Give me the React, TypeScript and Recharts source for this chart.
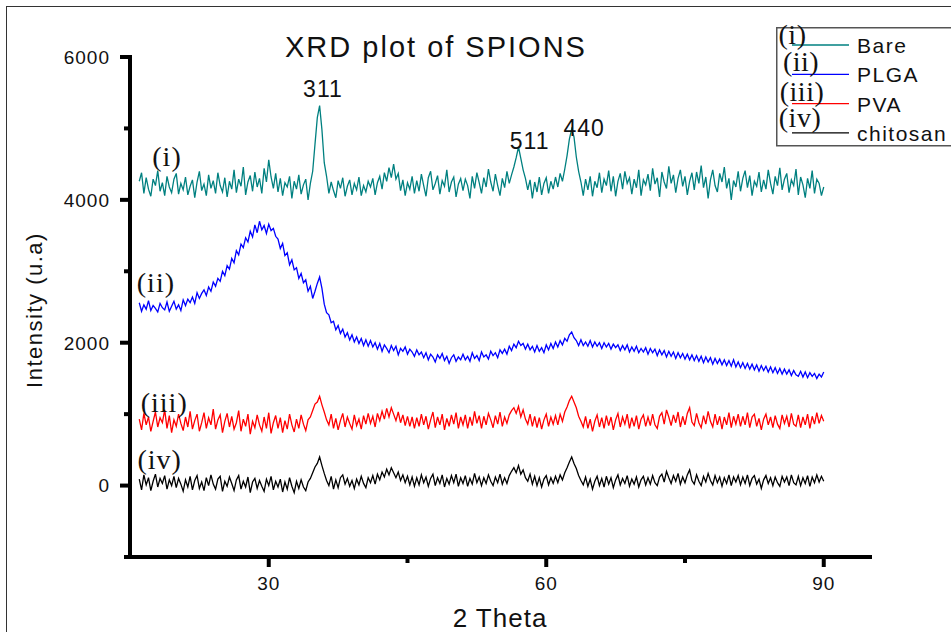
import { LineChart, Line, XAxis, YAxis, Legend, ReferenceDot } from 'recharts'

// 2θ grid of the scans, read at quarter-degree steps from 16° to 90°
const THETA_START = 16
const THETA_STEP = 0.25

// (i) bare SPIONs
const BARE = [
  4260, 4380, 4090, 4310, 4150, 4050, 4290, 4200, 4410, 4120, 4240, 4060, 4330, 4180, 4100, 4290, 4370, 4080, 4230, 4140,
  4320, 4070, 4190, 4280, 4030, 4250, 4400, 4130, 4220, 4060, 4350, 4160, 4270, 4090, 4380, 4200, 4110, 4310, 4040, 4260,
  4150, 4420, 4100, 4290, 4190, 4460, 4070, 4250, 4340, 4120, 4390, 4180, 4300, 4090, 4440, 4250, 4560, 4320, 4160, 4370,
  4110, 4300, 4060, 4240, 4180, 4330, 4020, 4260, 4150, 4350, 4080, 4210, 4290, 4000, 4230, 4400, 4780, 5150, 5320, 4980,
  4520, 4330, 4090, 4250, 4130, 4030, 4270, 4160, 4310, 4050, 4190, 4280, 4070, 4230, 4140, 4320, 4060, 4200, 4110, 4260,
  4180, 4300, 4070, 4240, 4330, 4150, 4380, 4260, 4450, 4310, 4500, 4290, 4370, 4130, 4280, 4060, 4240, 4150, 4330, 4090,
  4270, 4120, 4360, 4200, 4050, 4310, 4400, 4140, 4230, 4340, 4080, 4270, 4190, 4420, 4110, 4250, 4320, 4040, 4220, 4300,
  4130, 4290, 4200, 4020, 4330, 4160, 4380, 4240, 4090, 4310, 4180, 4430, 4250, 4120, 4360, 4200, 4060, 4300, 4170, 4400,
  4230, 4350, 4460, 4590, 4740, 4580, 4420, 4300, 4140, 4280, 4020, 4250, 4110, 4320, 4070, 4230, 4310, 4090, 4260, 4150,
  4320, 4180, 4370, 4260, 4430, 4620, 4850, 4990, 4880, 4600, 4400, 4250, 4060, 4290, 4140, 4330, 4050, 4260, 4170, 4380,
  4100, 4290, 4200, 4410, 4120, 4330, 4050, 4260, 4370, 4150, 4400, 4230, 4310, 4080, 4290, 4170, 4420, 4060, 4280, 4210,
  4360, 4130, 4440, 4220, 4310, 4040, 4390, 4250, 4160, 4470, 4230, 4350, 4100, 4300, 4420, 4190, 4330, 4070, 4260, 4380,
  4140, 4390, 4230, 4480, 4170, 4320, 4020, 4280, 4420, 4200, 4110, 4370, 4250, 4460, 4160, 4300, 4000, 4270, 4180, 4400,
  4120, 4300, 4410, 4170, 4340, 4060, 4260, 4190, 4390, 4110, 4280, 4150, 4420, 4230, 4080, 4330, 4200, 4450, 4140, 4290,
  4370, 4100, 4280, 4200, 4430, 4070, 4320, 4210, 4030, 4300, 4160, 4410, 4090, 4290, 4230, 4060, 4180,
]

// (ii) PLGA coated
const PLGA = [
  2560, 2440, 2530, 2470, 2590, 2450, 2520, 2480, 2430, 2550, 2490, 2460, 2570, 2440, 2510, 2580, 2470, 2530, 2450, 2600,
  2520, 2610, 2560, 2640, 2550, 2700, 2620, 2690, 2740, 2660, 2780, 2720, 2850, 2790, 2900, 2860, 3000, 2940, 3080, 3030,
  3180, 3120, 3290, 3230, 3380, 3330, 3470, 3410, 3560, 3480, 3650, 3540, 3700, 3580, 3640, 3530, 3660, 3570, 3600, 3490,
  3450, 3320, 3390, 3220, 3260, 3090, 3160, 3020, 3050, 2900, 2970, 2840, 2880, 2720, 2790, 2620, 2720, 2830, 2920, 2760,
  2540, 2420, 2390, 2280, 2300, 2180, 2240, 2130, 2190, 2080, 2140, 2040, 2110, 2010, 2080, 1990, 2060, 1960, 2040, 1950,
  2030, 1940, 2000, 1910, 1990, 1880, 1970, 1920, 1860, 1960, 1890, 1950, 1830, 1920, 1880, 1940, 1840, 1910, 1870, 1810,
  1900, 1830, 1870, 1790, 1860, 1760, 1840, 1800, 1730, 1830, 1780, 1850, 1750, 1810, 1710, 1790, 1830, 1740, 1800, 1760,
  1840, 1760, 1810, 1740, 1860, 1780, 1820, 1750, 1870, 1800, 1830, 1770, 1880, 1820, 1860, 1790, 1900, 1850, 1910, 1840,
  1950, 1890, 1980, 1930, 2020, 1960, 1990, 1910, 1980, 1900, 1950, 1870, 1960, 1880, 1930, 1860, 1970, 1900, 1990, 1920,
  2010, 1940, 2030, 1970, 2060, 2020, 2110, 2150, 2070, 2030, 1960, 2040, 1960, 2010, 1950, 2030, 1940, 2010, 1950, 2000,
  1920, 2000, 1940, 1990, 1910, 1980, 1930, 1970, 1890, 1960, 1900, 1970, 1870, 1940, 1880, 1950, 1860, 1920, 1870, 1930,
  1840, 1920, 1860, 1910, 1820, 1900, 1830, 1890, 1800, 1880, 1810, 1870, 1780, 1860, 1790, 1850, 1770, 1840, 1760, 1830,
  1750, 1820, 1740, 1810, 1720, 1800, 1730, 1790, 1700, 1780, 1710, 1770, 1690, 1760, 1680, 1750, 1670, 1760, 1660, 1730,
  1650, 1720, 1640, 1710, 1630, 1700, 1620, 1690, 1600, 1680, 1610, 1670, 1590, 1660, 1580, 1650, 1570, 1640, 1560, 1630,
  1560, 1620, 1540, 1610, 1550, 1530, 1600, 1520, 1590, 1510, 1580, 1530, 1570, 1500, 1560, 1520, 1590,
]

// (iii) PVA coated
const PVA = [
  930, 780, 1010, 850, 960, 760, 900, 1030, 820, 950, 880, 1060, 800, 980, 740, 920, 830, 1000, 870, 770,
  960, 820, 1040, 790, 910, 1000, 760, 880, 1020, 800, 950, 850, 1070, 790, 920, 990, 740, 900, 1010, 820,
  970, 790, 880, 1050, 760, 930, 830, 1000, 720, 900, 810, 990, 850, 760, 960, 800, 1020, 730, 880, 980,
  800, 950, 740, 910, 790, 1000, 850, 750, 930, 800, 990, 860, 770, 920, 960, 1050, 1140, 1170, 1250, 1130,
  1030, 920, 850, 1000, 800, 940, 780, 910, 1010, 820, 960, 870, 790, 990, 840, 930, 790, 980, 860, 1010,
  870, 970, 820, 1010, 910, 1040, 930, 1080, 960, 1090, 1000, 910, 1030, 880, 990, 840, 970, 830, 960, 800,
  950, 830, 1000, 850, 970, 790, 920, 1030, 810, 960, 850, 1000, 780, 940, 830, 990, 860, 1020, 800, 960,
  850, 990, 800, 960, 840, 1040, 870, 980, 800, 970, 850, 1010, 920, 810, 980, 860, 1030, 830, 960, 870,
  990, 1050, 1090, 1010, 1110, 960, 1060, 930, 860, 1000, 830, 970, 810, 950, 790, 920, 1000, 830, 960, 860,
  980, 850, 1000, 900, 1030, 1100, 1190, 1250, 1170, 1090, 970, 900, 820, 970, 800, 930, 760, 900, 990, 820,
  950, 800, 980, 840, 960, 780, 920, 1010, 820, 960, 860, 1000, 800, 950, 830, 980, 790, 930, 990, 830,
  960, 840, 1000, 850, 800, 970, 1020, 860, 1060, 960, 840, 990, 880, 1030, 820, 970, 850, 1010, 1090, 890,
  840, 1010, 880, 810, 980, 860, 1040, 900, 820, 1000, 850, 970, 790, 960, 850, 1020, 810, 970, 860, 1000,
  830, 970, 850, 1020, 810, 960, 1000, 830, 940, 780, 930, 1000, 850, 960, 810, 980, 860, 800, 990, 870,
  970, 820, 1010, 860, 830, 990, 810, 960, 850, 1000, 800, 970, 860, 1020, 870, 980, 900,
]

// (iv) chitosan coated
const CHITOSAN = [
  90, -60, 150, 10, 110, -70, 60, 160, -20, 100, 30, 140, -50, 80, 0, 130, -30, 100, 20, -80,
  80, -20, 130, -60, 70, 140, -40, 50, -70, 110, 0, 150, 20, -50, 90, 130, -80, 60, -10, 120,
  30, -70, 80, 140, -50, 60, -20, 120, -100, 50, 100, -40, 70, -10, -80, 90, 0, 130, -60, 60,
  -20, 90, -90, 50, -50, 110, -10, -100, 60, -40, 80, -20, -70, 50, 100, 180, 260, 310, 400, 280,
  170, 70, 0, 130, -50, 80, -30, 110, 150, 20, 100, -10, 70, -40, 90, 10, 130, 30, -30, 110,
  40, 140, 20, 160, 80, 190, 120, 230, 150, 250, 180, 110, 190, 70, 150, 40, 130, 10, 120, -10,
  110, 10, 150, 40, 120, -10, 100, 160, 0, 110, 30, 150, -20, 100, 20, 140, 40, 160, -10, 110,
  30, 140, -10, 100, 20, 170, 40, 120, 0, 110, 30, 150, 60, 0, 120, 40, 160, 20, 110, 30,
  140, 200, 250, 180, 280, 160, 220, 110, 60, 160, 20, 130, 0, 110, -20, 90, 140, 10, 110, 30,
  130, 40, 150, 80, 180, 250, 330, 400, 310, 240, 140, 70, 10, 120, -10, 90, -50, 60, 130, 0,
  100, -20, 130, 20, 110, -30, 80, 150, 10, 100, 30, 140, -10, 90, 20, 120, -20, 80, 130, 10,
  110, 20, 140, 40, 0, 120, 160, 50, 200, 110, 30, 140, 60, 170, 20, 120, 40, 150, 220, 70,
  20, 150, 60, 0, 130, 50, 170, 70, 10, 140, 40, 120, -10, 110, 30, 150, 0, 120, 50, 140,
  10, 120, 30, 150, 0, 100, 140, 20, 90, -40, 80, 140, 30, 110, 0, 120, 40, -10, 130, 50,
  120, 0, 150, 40, 10, 130, 0, 110, 30, 140, -10, 120, 40, 150, 50, 130, 60,
]

const X_TICKS = [30, 45, 60, 75, 90]
const X_LABELED = [30, 60, 90]
const Y_TICKS = [-1000, 0, 1000, 2000, 3000, 4000, 5000, 6000]
const Y_LABELED = [0, 2000, 4000, 6000]

const SERIES = [
  { key: 'bare', name: 'Bare', color: '#008080', roman: '(i)' },
  { key: 'plga', name: 'PLGA', color: '#0000ff', roman: '(ii)' },
  { key: 'pva', name: 'PVA', color: '#ff0000', roman: '(iii)' },
  { key: 'chitosan', name: 'chitosan', color: '#000000', roman: '(iv)' },
]

// curve tags and peak indices, placed in data units
const CURVE_TAGS = [
  { text: '(i)', theta: 19.0, value: 4620 },
  { text: '(ii)', theta: 17.8, value: 2850 },
  { text: '(iii)', theta: 18.7, value: 1170 },
  { text: '(iv)', theta: 18.2, value: 370 },
]
const PEAK_TAGS = [
  { text: '311', theta: 35.86, value: 5560 },
  { text: '511', theta: 58.2, value: 4825 },
  { text: '440', theta: 64.1, value: 5015 },
]

const data = BARE.map((_, i) => ({
  theta: THETA_START + i * THETA_STEP,
  bare: BARE[i],
  plga: PLGA[i],
  pva: PVA[i],
  chitosan: CHITOSAN[i],
}))

const SANS = 'Arial, "Liberation Sans", sans-serif'
const SERIF = '"Times New Roman", "Liberation Serif", serif'

function YTick(props: any) {
  const { x, y, payload } = props
  const axisX = x + 20 // tickSize 8 + tickMargin 12
  const major = Y_LABELED.includes(payload.value)
  return (
    <g>
      <line x1={axisX - (major ? 10 : 6)} x2={axisX} y1={y} y2={y} stroke="#000" strokeWidth={4} />
      {major && (
        <text x={x} y={y} dy="0.36em" textAnchor="end" fontSize={19} letterSpacing={1} fontFamily={SANS} fill="#111">
          {payload.value}
        </text>
      )}
    </g>
  )
}

function XTick(props: any) {
  const { x, y, payload } = props
  const axisY = y - 10 // tickSize 10, tickMargin 0
  const major = X_LABELED.includes(payload.value)
  return (
    <g>
      <line x1={x} x2={x} y1={axisY} y2={axisY + (major ? 10 : 6)} stroke="#000" strokeWidth={4} />
      {major && (
        <text x={x} y={axisY + 33} textAnchor="middle" fontSize={19} letterSpacing={1} fontFamily={SANS} fill="#111">
          {payload.value}
        </text>
      )}
    </g>
  )
}

function SpionLegend(props: any) {
  const items = props.payload ?? []
  return (
    <svg width={200} height={125} style={{ overflow: 'visible', display: 'block' }}>
      <rect x={0.75} y={0.75} width={220} height={118} fill="#fff" stroke="#555" strokeWidth={1.5} />
      {items.map((item: any, i: number) => {
        const rowY = 18 + i * 29.3
        const romanX = [16.5, 25, 26, 24][i]
        const romanY = [7, 34.5, 64.5, 90.5][i]
        return (
          <g key={item.value}>
            <line x1={16} x2={73} y1={rowY} y2={rowY} stroke={item.color} strokeWidth={1.3} />
            <text x={81} y={rowY + 8} fontSize={21} letterSpacing={1.5} fontFamily={SANS} fill="#111">
              {item.value}
            </text>
            <text x={romanX} y={romanY} textAnchor="middle" dominantBaseline="central" fontSize={28} letterSpacing={0.5} fontFamily={SERIF} fill="#111">
              {SERIES[i]?.roman}
            </text>
          </g>
        )
      })}
    </svg>
  )
}

export default function App() {
  return (
    <div style={{ position: 'absolute', left: 0, top: 0, width: 951, height: 632, overflow: 'hidden', background: '#fff' }}>
      <div style={{ position: 'absolute', left: 6, top: 6, width: 1100, height: 800, border: '1.5px solid #333' }} />
      <div
        style={{
          position: 'absolute', left: 0, top: 33, width: 872, textAlign: 'center',
          fontFamily: SANS, fontSize: 29, lineHeight: '29px', letterSpacing: 2, color: '#111',
        }}
      >
        XRD plot of SPIONS
      </div>
      <div style={{ position: 'absolute', left: 0, top: 0 }}>
        <LineChart width={951} height={632} data={data} margin={{ top: 57, right: 81, bottom: 15, left: 30 }}>
          <XAxis
            dataKey="theta"
            type="number"
            domain={[15, 95]}
            ticks={X_TICKS}
            interval={0}
            height={60}
            tickSize={10}
            tickMargin={0}
            tickLine={false}
            tick={<XTick />}
            axisLine={{ stroke: '#000', strokeWidth: 4, strokeLinecap: 'square' }}
            label={{ value: '2 Theta', position: 'insideBottom', offset: -10, fontSize: 26, letterSpacing: 1, fontFamily: SANS, fill: '#111' }}
          />
          <YAxis
            type="number"
            domain={[-1000, 6000]}
            ticks={Y_TICKS}
            interval={0}
            width={100}
            tickSize={8}
            tickMargin={12}
            tickLine={false}
            tick={<YTick />}
            axisLine={{ stroke: '#000', strokeWidth: 4, strokeLinecap: 'square' }}
            label={{ value: 'Intensity (u.a)', angle: -90, position: 'center', dx: -46, dy: 3, fontSize: 22, letterSpacing: 1.5, fontFamily: SANS, fill: '#111' }}
          />
          <Legend
            layout="vertical"
            align="center"
            verticalAlign="middle"
            content={<SpionLegend />}
            wrapperStyle={{ position: 'absolute', left: 776, top: 27, width: 200, height: 125 }}
          />
          {SERIES.map((s) => (
            <Line
              key={s.key}
              dataKey={s.key}
              name={s.name}
              stroke={s.color}
              strokeWidth={1.3}
              dot={false}
              type="linear"
              isAnimationActive={false}
            />
          ))}
          {CURVE_TAGS.map((t) => (
            <ReferenceDot
              key={t.text}
              x={t.theta}
              y={t.value}
              r={0}
              stroke="none"
              fill="none"
              label={{ value: t.text, position: 'center', fontSize: 28, letterSpacing: 1, fontFamily: SERIF, fill: '#111' }}
            />
          ))}
          {PEAK_TAGS.map((t) => (
            <ReferenceDot
              key={t.text}
              x={t.theta}
              y={t.value}
              r={0}
              stroke="none"
              fill="none"
              label={{ value: t.text, position: 'center', fontSize: 23, letterSpacing: 1, fontFamily: SANS, fill: '#111' }}
            />
          ))}
        </LineChart>
      </div>
    </div>
  )
}
